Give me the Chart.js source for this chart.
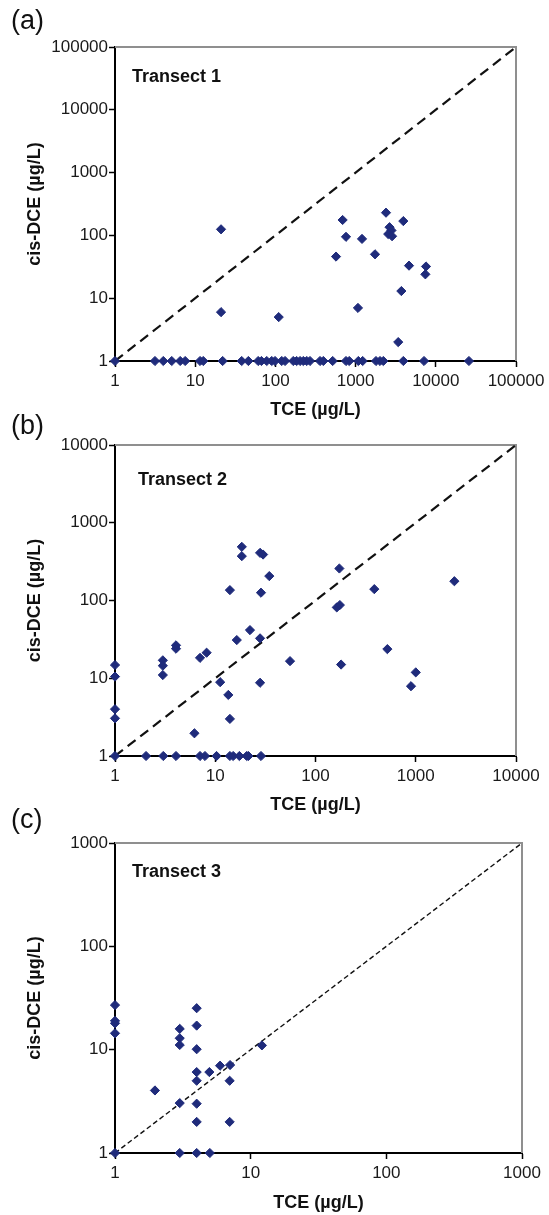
<!doctype html>
<html lang="en">
  <head>
    <meta charset="UTF-8" />
    <title>TCE vs cis-DCE by transect</title>
    <script src="https://cdn.jsdelivr.net/npm/chart.js"></script>
    <style>
      body {
        margin: 0;
        background: #fff;
        font-family: "Liberation Sans", Arial, sans-serif;
      }
      .page {
        position: relative;
        width: 549px;
        height: 1215px;
        overflow: hidden;
      }
      .page canvas {
        position: absolute;
        left: 0;
      }
      .tag {
        position: absolute;
        left: 11px;
        font-size: 27px;
        line-height: 1;
        color: #111;
      }
    </style>
  </head>
  <body>
    <div class="page">
      <canvas id="chartA" width="549" height="430" style="top: 0"></canvas>
      <canvas id="chartB" width="549" height="395" style="top: 430px"></canvas>
      <canvas id="chartC" width="549" height="390" style="top: 825px"></canvas>
      <div class="tag" style="top: 7px">(a)</div>
      <div class="tag" style="top: 412px">(b)</div>
      <div class="tag" style="top: 806px">(c)</div>
    </div>

    <script>
      // tick labels for each panel (log axes, same on x and y)
      const ticksA = [1, 10, 100, 1000, 10000, 100000];
      const ticksB = [1, 10, 100, 1000, 10000];
      const ticksC = [1, 10, 100, 1000];

      // Transect 1 (TCE, cis-DCE in ug/L)
      const tceA = [
        21, 21, 110, 689, 759, 570, 1202, 1746, 1070, 2394, 3936, 2650, 2800,
        2550, 2850, 4635, 7550, 7410, 3720, 3400,
        1, 3.15, 4, 5.1, 6.5, 7.5, 11.5, 12.6, 22, 38, 46, 61, 67, 78, 90, 99,
        120, 132, 167, 184, 203, 223, 246, 270, 360, 396, 518, 759, 833, 1082,
        1225, 1796, 2015, 2217, 3936, 7130, 25900,
      ];
      const dceA = [
        125, 6, 5, 176, 95, 46, 88, 50, 7, 230, 169, 135, 120,
        105, 97, 33, 32, 24, 13, 2,
        1, 1, 1, 1, 1, 1, 1, 1, 1, 1, 1, 1, 1, 1, 1, 1,
        1, 1, 1, 1, 1, 1, 1, 1, 1, 1, 1, 1, 1, 1,
        1, 1, 1, 1, 1, 1, 1,
      ];

      // Transect 2
      const tceB = [
        1, 1, 1, 1, 1, 3, 3, 3, 4.06, 4.06, 7.05, 8.2, 11.2, 13.5, 14, 6.2,
        16.4, 22.2, 28, 28, 14, 28.6, 18.4, 18.4, 28, 30, 34.6, 173, 386, 2427,
        163, 175, 55.7, 180, 521, 1000, 897,
        2.04, 3.03, 4.06, 7.05, 7.9, 10.3, 14, 15.1, 17.4, 20.6, 21.4, 28.6,
      ];
      const dceB = [
        14.8, 10.5, 4, 3.05, 1, 17, 14.5, 11, 26.5, 24, 18.3, 21.3, 8.9, 6.1, 3,
        1.96, 31, 41.6, 32.6, 8.75, 136, 126, 490, 372, 410, 390, 206, 258, 140,
        177, 81.5, 87.4, 16.6, 15, 23.7, 11.9, 7.9,
        1, 1, 1, 1, 1, 1, 1, 1, 1, 1, 1, 1,
      ];

      // Transect 3
      const tceC = [
        1, 1, 1, 1, 1, 3, 3, 3, 3, 3, 4, 4, 4, 4, 4, 4, 4, 4, 1.97, 4.96, 5.95,
        7.05, 7, 7, 12.1, 5,
      ];
      const dceC = [
        27, 19, 18, 14.4, 1, 15.9, 12.9, 11.1, 3.04, 1, 25.2, 17.1, 10.1, 6.07,
        5, 3, 2, 1, 4.03, 6.07, 7, 7.1, 5, 2, 11, 1,
      ];

      Chart.defaults.font.family = '"Liberation Sans", Arial, sans-serif';

      const frameAndLabel = {
        id: "frameAndLabel",
        beforeDatasetsDraw(chart) {
          const { ctx, chartArea: a } = chart;
          ctx.save();
          ctx.strokeStyle = "#8f8f8f";
          ctx.lineWidth = 2;
          ctx.beginPath();
          ctx.moveTo(a.left, a.top);
          ctx.lineTo(a.right, a.top);
          ctx.lineTo(a.right, a.bottom);
          ctx.stroke();
          ctx.restore();
        },
        afterDraw(chart, args, opts) {
          const { ctx, chartArea: a } = chart;
          ctx.save();
          ctx.font = 'bold 18px "Liberation Sans", Arial, sans-serif';
          ctx.fillStyle = "#111";
          ctx.textBaseline = "middle";
          ctx.fillText(opts.text, a.left + opts.dx, a.top + opts.dy);
          ctx.restore();
        },
      };

      function logAxis(ticks, fit) {
        return {
          type: "logarithmic",
          min: ticks[0],
          max: ticks[ticks.length - 1],
          afterBuildTicks: (s) => {
            s.ticks = ticks.map((v) => ({ value: v }));
          },
          afterFit: fit,
          ticks: {
            autoSkip: false,
            maxRotation: 0,
            color: "#1a1a1a",
            font: { size: 17 },
            callback: (v) => String(v),
          },
          grid: {
            drawOnChartArea: false,
            drawTicks: true,
            tickLength: 6,
            tickColor: "#000",
            tickWidth: 1.5,
          },
          border: { display: true, color: "#000", width: 2 },
        };
      }

      function makeChart(id, tce, dce, ticks, cfg) {
        const pts = tce.map((x, i) => ({ x: x, y: dce[i] }));
        const lo = ticks[0];
        const hi = ticks[ticks.length - 1];

        const x = logAxis(ticks, (s) => {
          s.height = cfg.xHeight;
        });
        x.ticks.padding = 4;
        x.title = {
          display: true,
          text: "TCE (µg/L)",
          color: "#111",
          font: { size: 18, weight: "bold" },
          padding: { top: 0, bottom: cfg.xTitlePad },
        };

        const y = logAxis(ticks, (s) => {
          s.width = 115;
        });
        y.ticks.padding = 1;
        y.title = {
          display: true,
          text: "cis-DCE (µg/L)",
          color: "#111",
          font: { size: 18, weight: "bold" },
          padding: { top: 24, bottom: 0 },
        };

        return new Chart(document.getElementById(id), {
          type: "scatter",
          data: {
            datasets: [
              {
                type: "scatter",
                data: pts,
                pointStyle: "rectRot",
                pointRadius: 4.6,
                backgroundColor: "#1f2b7b",
                borderColor: "#1f2b7b",
                borderWidth: 1,
                clip: false,
              },
              {
                type: "line",
                data: [
                  { x: lo, y: lo },
                  { x: hi, y: hi },
                ],
                borderColor: "#111",
                borderWidth: cfg.dashWidth,
                borderDash: cfg.dash,
                pointRadius: 0,
                fill: false,
              },
            ],
          },
          options: {
            responsive: false,
            animation: false,
            devicePixelRatio: 1,
            layout: {
              autoPadding: false,
              padding: { top: cfg.top, right: cfg.right, left: 0, bottom: 0 },
            },
            scales: { x: x, y: y },
            plugins: {
              legend: { display: false },
              tooltip: { enabled: false },
              frameAndLabel: cfg.label,
            },
          },
          plugins: [frameAndLabel],
        });
      }

      makeChart("chartA", tceA, dceA, ticksA, {
        top: 47,
        right: 33,
        xHeight: 69,
        xTitlePad: 9,
        dash: [10, 6],
        dashWidth: 2.2,
        label: { text: "Transect 1", dx: 17, dy: 30 },
      });

      makeChart("chartB", tceB, dceB, ticksB, {
        top: 15,
        right: 33,
        xHeight: 69,
        xTitlePad: 9,
        dash: [10, 6],
        dashWidth: 2.2,
        label: { text: "Transect 2", dx: 23, dy: 35 },
      });

      makeChart("chartC", tceC, dceC, ticksC, {
        top: 18,
        right: 27,
        xHeight: 62,
        xTitlePad: 1,
        dash: [5, 3],
        dashWidth: 1.4,
        label: { text: "Transect 3", dx: 17, dy: 29 },
      });
    </script>
  </body>
</html>
